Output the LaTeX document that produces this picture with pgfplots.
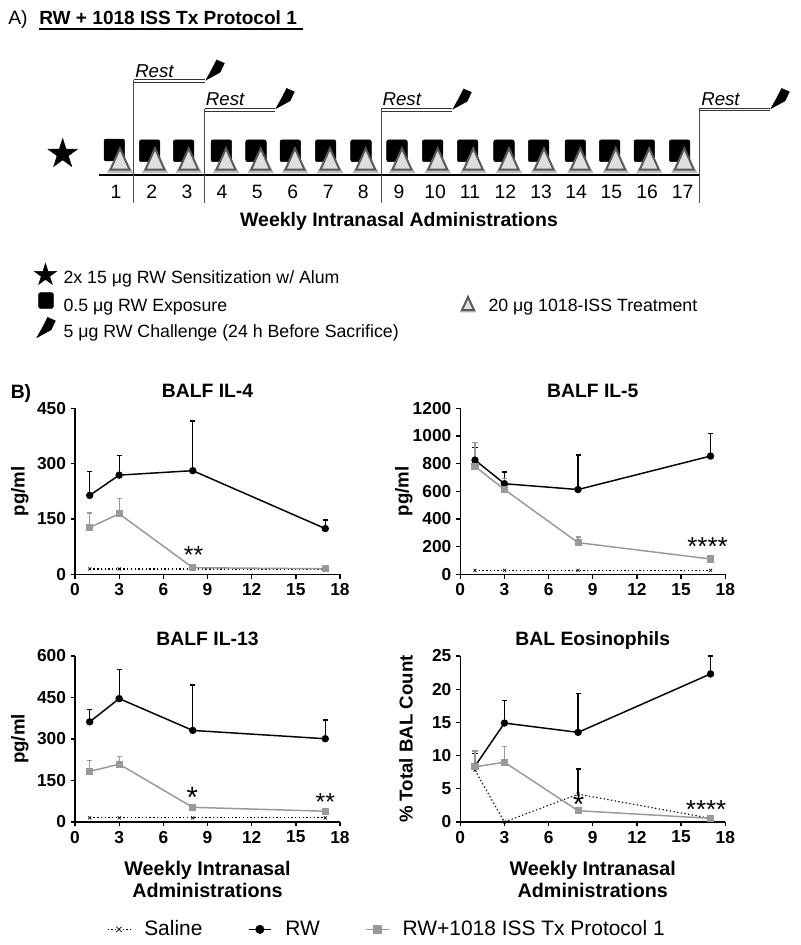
\documentclass[border=0pt]{standalone}
\usepackage{fontspec}
\setmainfont{Liberation Sans}
\usepackage{pgfplots}
\pgfplotsset{compat=1.18}

% sizes follow the reference: 1 px = 0.75 pt
\newcommand{\fs}[1]{\fontsize{#1}{#1}\selectfont}

\pgfdeclareplotmark{bolt}{
  \fill (0pt,0pt) -- (4.7pt,8.5pt) -- (8pt,15pt) -- (13.75pt,12.5pt) -- (10.5pt,5.75pt) -- cycle;
}
\pgfdeclareplotmark{fivestar}{
  \fill (90:11.5pt) -- (126:4.4pt) -- (162:11.5pt) -- (198:4.4pt) -- (234:11.5pt) -- (270:4.4pt)
    -- (306:11.5pt) -- (342:4.4pt) -- (18:11.5pt) -- (54:4.4pt) -- cycle;
}
\pgfdeclareplotmark{roundsq}{
  \fill[rounded corners=1.5pt] (-7.7pt,-8.2pt) rectangle (7.7pt,8.2pt);
}
\pgfdeclareplotmark{tri}{
  \fill[black!35,opacity=0.7] (-9.6pt,-1.4pt) -- (9.6pt,-1.4pt) -- (8pt,1.5pt) -- (-8pt,1.5pt) -- cycle;
  \draw[black!65,line width=1.5pt,line join=miter,fill=black!13] (-7.2pt,1pt) -- (7.2pt,1pt) -- (0pt,17pt) -- cycle;
}

\tikzset{
  sig/.style={font=\fs{#1},anchor=base,inner sep=0pt},
  sig/.default=18.5,
  lbl/.style={anchor=base west,inner sep=0pt,font=#1},
}
\pgfplotsset{
  panel/.style={
    scale only axis,
    width=198.75pt,
    height=124.5pt,
    axis lines=left,
    axis line style={-,line width=1pt},
    tick style={black,line width=1pt},
    tick align=outside,
    major tick length=3.2pt,
    xmin=0,xmax=18,
    xtick={0,3,...,18},
    clip=false,
    /pgf/number format/assume math mode=true,
    /pgf/number format/1000 sep={},
    tick label style={font=\bfseries\fs{13}},
    title style={font=\bfseries\fs{14.5},at={(axis description cs:0.5,1)},anchor=base,yshift=2.25pt},
    ylabel style={font=\bfseries\fs{14},at={(axis description cs:-0.19,0.5)},anchor=base},
    xlabel style={font=\bfseries\fontsize{14.8}{16.5}\selectfont,align=center,at={(axis description cs:0.5,-0.21)},anchor=north},
    error bars/y dir=plus,
    error bars/y explicit,
    error bars/error bar style={solid,line width=1pt},
    error bars/error mark options={solid,rotate=90,mark size=1.9pt,line width=1pt},
  },
  saline/.style={black,dash pattern=on 1pt off 1.8pt,line width=0.8pt,mark=x,mark size=1.6pt,
    mark options={solid,line width=0.5pt},error bars/y dir=none},
  rw/.style={black,solid,line width=1.1pt,mark=*,mark size=2.2pt},
  iss/.style={black!40,solid,line width=1.1pt,mark=square*,mark size=2.1pt},
}

\begin{document}
\begin{tikzpicture}
\path[use as bounding box] (0pt,0pt) rectangle (600pt,708.75pt);

% panel A, plotted in reference pixels
\begin{axis}[
  at={(0pt,0pt)},anchor=south west,
  scale only axis,width=600pt,height=708.75pt,
  xmin=0,xmax=800,ymin=0,ymax=945,y dir=reverse,
  hide axis,clip=false,
]
\addplot[only marks,mark=roundsq] coordinates {
  (114.3,150) (149.6,150.8) (183.6,150.8) (221.3,150.8) (256,150.8) (290.3,150.8)
  (325.6,150.8) (361,150.8) (397,150.8) (432.6,150.8) (467.6,150.8) (504,150.8)
  (538.6,150.8) (575.3,150.8) (609.6,150.8) (644.3,150.8) (679.6,150.8)
};
\addplot[only marks,mark=tri] coordinates {
  (120,171) (155,171) (188.7,171) (226,171) (260.7,171) (295,171) (330,171) (365.7,171)
  (402,171) (437.7,171) (473.3,171) (509,171) (544,171) (580.3,171) (615.7,171) (649.3,171) (684.3,171)
};
% timeline and rest brackets
\addplot[black,line width=1.2pt] coordinates {(99,175) (699,175)};
\addplot[black!70,line width=0.9pt] coordinates {(133.7,80) (133.7,203)};
\addplot[black!70,line width=0.9pt] coordinates {(204.7,109) (204.7,203)};
\addplot[black!70,line width=0.9pt] coordinates {(381.3,109) (381.3,203)};
\addplot[black!70,line width=0.9pt] coordinates {(699.3,108.5) (699.3,203)};
\addplot[black!80,line width=0.6pt] coordinates {(133.7,79.5) (205,79.5)};
\addplot[black!80,line width=0.6pt] coordinates {(133.7,82.2) (205,82.2)};
\addplot[black!80,line width=0.6pt] coordinates {(204.7,108.5) (275,108.5)};
\addplot[black!80,line width=0.6pt] coordinates {(204.7,111.2) (275,111.2)};
\addplot[black!80,line width=0.6pt] coordinates {(381.3,108.5) (452,108.5)};
\addplot[black!80,line width=0.6pt] coordinates {(381.3,111.2) (452,111.2)};
\addplot[black!80,line width=0.6pt] coordinates {(699.3,108) (770,108)};
\addplot[black!80,line width=0.6pt] coordinates {(699.3,110.7) (770,110.7)};
\addplot[only marks,mark=bolt] coordinates {(206,80) (276,108.5) (453,109) (771,108.5)};
\addplot[only marks,mark=fivestar] coordinates {(62.7,154)};
\addplot[black,line width=1.2pt] coordinates {(39,29) (303,29)};

% key
\addplot[only marks,mark=fivestar,mark options={scale=0.75}] coordinates {(45.5,275)};
\addplot[only marks,mark=roundsq,mark options={scale=0.72}] coordinates {(46,300.5)};
\addplot[only marks,mark=bolt] coordinates {(37,337.5)};
\addplot[only marks,mark=tri,mark options={scale=0.62}] coordinates {(468,311)};

\node[lbl=\fs{14.5}] at (axis cs:8,25) {A)};
\node[lbl=\bfseries\fs{14.3}] at (axis cs:39,25) {RW + 1018 ISS Tx Protocol 1};
\node[lbl=\itshape\fs{14}] at (axis cs:135,77.5) {Rest};
\node[lbl=\itshape\fs{14}] at (axis cs:205.7,106) {Rest};
\node[lbl=\itshape\fs{14}] at (axis cs:382.3,106) {Rest};
\node[lbl=\itshape\fs{14}] at (axis cs:701,105.5) {Rest};
\foreach \x/\n in {116/1,151.7/2,187/3,222/4,257.3/5,292.7/6,328.3/7,363.3/8,399/9,435/10,
    470/11,505.3/12,541/13,576/14,611.3/15,647/16,682.7/17}{
  \edef\tmp{\noexpand\node[anchor=base,font=\noexpand\fs{14.5}] at (axis cs:\x,199) {\n};}
  \tmp
}
\node[anchor=base,font=\bfseries\fs{14.6}] at (axis cs:399,227) {Weekly Intranasal Administrations};
\node[lbl=\fs{13.3}] at (axis cs:63.3,284) {2x 15 μg RW Sensitization w/ Alum};
\node[lbl=\fs{13.3}] at (axis cs:63.3,312) {0.5 μg RW Exposure};
\node[lbl=\fs{13.3}] at (axis cs:63.3,338) {5 μg RW Challenge (24 h Before Sacrifice)};
\node[lbl=\fs{13.3}] at (axis cs:488.3,311.5) {20 μg 1018-ISS Treatment};
\node[lbl=\bfseries\fs{14.5}] at (axis cs:10.5,398.3) {B)};
\end{axis}

% BALF IL-4
\begin{axis}[panel,at={(56.25pt,278pt)},anchor=south west,
  title={BALF IL-4},ylabel={pg/ml},
  ymin=0,ymax=450,ytick={0,150,300,450}]
\addplot[saline] coordinates {(1,14.5) (3,14.5) (8,14.5) (17,14.5)};
\addplot[rw] coordinates {(1,214) +- (0,65) (3,269) +- (0,54) (8,281) +- (0,135) (17,124) +- (0,23)};
\addplot[iss] coordinates {(1,127) +- (0,39) (3,164) +- (0,41) (8,18) +- (0,3) (17,15) +- (0,2)};
\node[sig] at (axis cs:8.05,28) {**};
\end{axis}

% BALF IL-5
\begin{axis}[panel,at={(345.2pt,278pt)},anchor=south west,
  title={BALF IL-5},ylabel={pg/ml},
  ylabel style={at={(axis description cs:-0.195,0.5)}},
  ymin=0,ymax=1200,ytick={0,200,...,1200}]
\addplot[saline] coordinates {(1,29) (3,29) (8,29) (17,29)};
\addplot[rw] coordinates {(1,826) +- (0,92) (3,655) +- (0,84) (8,613) +- (0,249) (17,855) +- (0,164)};
\addplot[iss] coordinates {(1,780) +- (0,171) (3,613) +- (0,80) (8,229) +- (0,41) (17,111) +- (0,24)};
\node[sig=19.5] at (axis cs:16.8,137) {****};
\end{axis}

% BALF IL-13
\begin{axis}[panel,at={(56.25pt,92.25pt)},anchor=south west,
  title={BALF IL-13},ylabel={pg/ml},
  xlabel={Weekly Intranasal\\Administrations},
  ymin=0,ymax=600,ytick={0,150,...,600},
  legend image post style={mark size=2.8pt},
  legend style={at={(axis description cs:0.105,-0.647)},anchor=west,draw=none,fill=none,
    legend columns=3,font=\fs{15.7},
    /tikz/every odd column/.append style={column sep=8pt},
    /tikz/every even column/.append style={column sep=32pt}}]
\addplot[saline] coordinates {(1,15) (3,15) (8,15) (17,15)};
\addlegendentry{Saline}
\addplot[rw] coordinates {(1,362) +- (0,44) (3,446) +- (0,105) (8,331) +- (0,164) (17,301) +- (0,68)};
\addlegendentry{RW}
\addplot[iss] coordinates {(1,183) +- (0,39) (3,209) +- (0,28) (8,53) +- (0,6) (17,39) +- (0,5)};
\addlegendentry{RW+1018 ISS Tx Protocol 1}
\node[sig=22] at (axis cs:7.97,51) {*};
\node[sig=18.5] at (axis cs:17,40) {**};
\end{axis}

% BAL Eosinophils
\begin{axis}[panel,at={(345.2pt,92.25pt)},anchor=south west,
  title={BAL Eosinophils},ylabel={\% Total BAL Count},
  ylabel style={at={(axis description cs:-0.18,0.5)}},
  xlabel={Weekly Intranasal\\Administrations},
  ymin=0,ymax=25,ytick={0,5,...,25}]
\addplot[saline,error bars/y dir=plus] coordinates {(1,7.8) +- (0,0.7) (3,0) +- (0,0) (8,4.2) +- (0,3.8) (17,0.55) +- (0,0)};
\addplot[rw] coordinates {(1,8.4) +- (0,1.9) (3,14.9) +- (0,3.4) (8,13.5) +- (0,5.9) (17,22.3) +- (0,2.7)};
\addplot[iss] coordinates {(1,8.3) +- (0,2.4) (3,9) +- (0,2.4) (8,1.7) +- (0,0.2) (17,0.55) +- (0,0.1)};
\node[sig=22] at (axis cs:8.04,1.06) {*};
\node[sig=19.5] at (axis cs:16.7,0.6) {****};
\end{axis}
\end{tikzpicture}
\end{document}
